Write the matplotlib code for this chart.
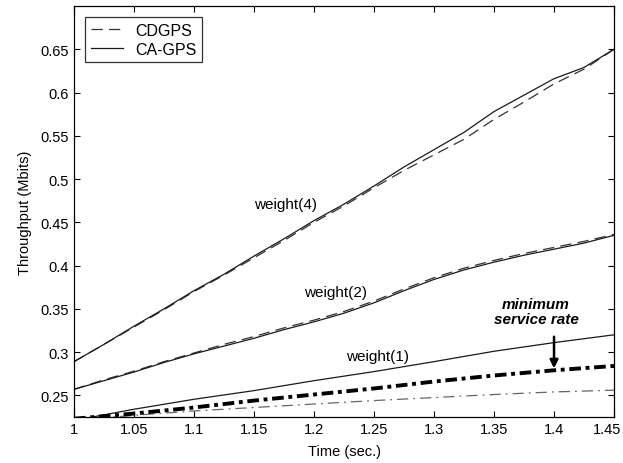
import matplotlib
matplotlib.use('Agg')
import matplotlib.pyplot as plt
import matplotlib.transforms as mtransforms

plt.rcParams['font.family'] = ['Liberation Sans', 'DejaVu Sans']

# tempo (s) e vazao (Mbits)
time_fine = [1.000, 1.025, 1.050, 1.075, 1.100, 1.125, 1.150, 1.175, 1.200, 1.225,
             1.250, 1.275, 1.300, 1.325, 1.350, 1.375, 1.400, 1.425, 1.450]
time_s = [1.00, 1.05, 1.10, 1.15, 1.20, 1.25, 1.30, 1.35, 1.40, 1.45]

w4_cagps = [0.289, 0.309, 0.330, 0.350, 0.371, 0.390, 0.411, 0.431, 0.452, 0.471,
            0.492, 0.514, 0.534, 0.554, 0.578, 0.597, 0.616, 0.629, 0.650]
w4_cdgps = [0.289, 0.309, 0.329, 0.349, 0.370, 0.389, 0.409, 0.429, 0.450, 0.469,
            0.490, 0.510, 0.528, 0.546, 0.569, 0.589, 0.610, 0.627, 0.650]

w2_cagps = [0.257, 0.267, 0.277, 0.288, 0.298, 0.307, 0.316, 0.326, 0.335, 0.345,
            0.357, 0.371, 0.384, 0.395, 0.404, 0.412, 0.419, 0.426, 0.435]
w2_cdgps = [0.257, 0.268, 0.278, 0.289, 0.299, 0.309, 0.318, 0.328, 0.337, 0.347,
            0.359, 0.373, 0.386, 0.397, 0.406, 0.414, 0.421, 0.428, 0.436]

w1_cagps = [0.221, 0.234, 0.2455, 0.2555, 0.267, 0.2775, 0.289, 0.301, 0.311, 0.320]
w1_cdgps = [0.221, 0.227, 0.232, 0.236, 0.240, 0.244, 0.2475, 0.251, 0.254, 0.256]

min_rate = [0.223, 0.229, 0.236, 0.244, 0.251, 0.258, 0.266, 0.273, 0.279, 0.284]

xticks = [1, 1.05, 1.1, 1.15, 1.2, 1.25, 1.3, 1.35, 1.4, 1.45]
xticklabels = ['1', '1.05', '1.1', '1.15', '1.2', '1.25', '1.3', '1.35', '1.4', '1.45']
yticks = [0.25, 0.3, 0.35, 0.4, 0.45, 0.5, 0.55, 0.6, 0.65]
yticklabels = ['0.25', '0.3', '0.35', '0.4', '0.45', '0.5', '0.55', '0.6', '0.65']

fig = plt.figure(figsize=(6.23, 4.64), dpi=100)
ax = fig.add_axes([0.1188, 0.0991, 0.8668, 0.8858])

dash = (0, (9, 5))
ax.plot(time_fine, w4_cdgps, color='#333333', lw=0.9, linestyle=dash, label='CDGPS')
ax.plot(time_fine, w4_cagps, color='#1a1a1a', lw=0.9, label='CA-GPS')
ax.plot(time_fine, w2_cdgps, color='#333333', lw=0.9, linestyle=dash)
ax.plot(time_fine, w2_cagps, color='#1a1a1a', lw=0.9)
ax.plot(time_s, w1_cagps, color='#1a1a1a', lw=0.9)
ax.plot(time_s, w1_cdgps, color='#666666', lw=0.9, linestyle=(0, (9, 4, 1.5, 4)))
ax.plot(time_s, min_rate, color='black', lw=2.8, linestyle=(0, (3, 1.2, 1, 1.2)))

ax.text(1.176, 0.471, 'weight(4)', ha='center', va='center', fontsize=11)
ax.text(1.218, 0.369, 'weight(2)', ha='center', va='center', fontsize=11)
ax.text(1.2525, 0.295, 'weight(1)', ha='center', va='center', fontsize=11)
ax.text(1.385, 0.347, 'minimum\nservice rate', ha='center', va='center',
        fontsize=11, fontweight='bold', fontstyle='italic', linespacing=1.1)
ax.annotate('', xy=(1.40, 0.278), xytext=(1.40, 0.321),
            arrowprops=dict(arrowstyle='-|>', lw=1.8, color='black', mutation_scale=12))

ax.set_xlim(1, 1.45)
ax.set_ylim(0.225, 0.70)
ax.set_xticks(xticks)
ax.set_xticklabels(xticklabels)
ax.set_yticks(yticks)
ax.set_yticklabels(yticklabels)
ax.tick_params(direction='in', length=4, width=0.8, top=True, right=True, labelsize=10.5)
for s in ax.spines.values():
    s.set_linewidth(0.9)

# o ultimo rotulo encosta na borda da figura; puxa um pouco para a esquerda
last = ax.get_xticklabels()[-1]
last.set_transform(last.get_transform() +
                   mtransforms.ScaledTranslation(-7 / 100, 0, fig.dpi_scale_trans))

ax.set_xlabel('Time (sec.)', fontsize=10.5, labelpad=6)
ax.set_ylabel('Throughput (Mbits)', fontsize=10.5, labelpad=6)

leg = ax.legend(loc='upper left', fontsize=11.5, frameon=True, fancybox=False,
                edgecolor='black', handlelength=2.0, handletextpad=0.8,
                borderaxespad=0.7, borderpad=0.35, labelspacing=0.25)
leg.get_frame().set_linewidth(0.9)

plt.savefig('out.png', dpi=100)
plt.close()
